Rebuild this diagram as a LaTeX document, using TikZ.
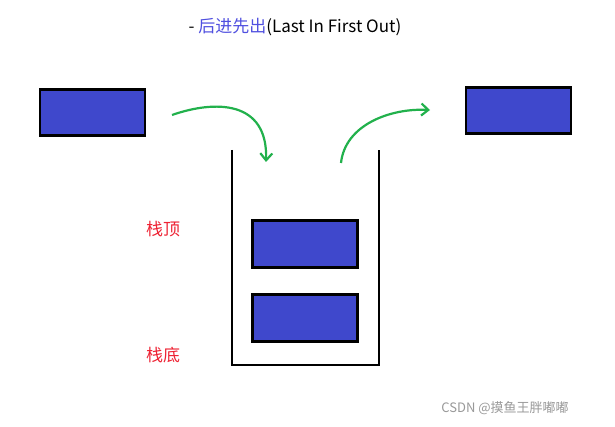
\documentclass[tikz,border=0pt]{standalone}
\usepackage{fontspec}
\setmainfont{Noto Sans CJK SC}
\usetikzlibrary{arrows.meta}
\definecolor{boxblue}{HTML}{3F48CC}
\definecolor{titleblue}{HTML}{5050E0}
\definecolor{grn}{HTML}{22B14C}
\definecolor{lblred}{HTML}{EE2233}
\tikzset{blk/.style={draw=black,line width=2.2pt,fill=boxblue},
 garrow/.style={draw=grn,line width=2.2pt,-{Straight Barb[length=7pt,width=12pt]}},
 lbl/.style={text=lblred,font=\fontsize{17}{20}\selectfont}}
\begin{document}
\begin{tikzpicture}[x=1pt,y=-1pt]
\useasboundingbox[fill=white] (0,0) rectangle (615,427);
\node (title) at (295,27) {\fontsize{17}{20}\selectfont - \textcolor{titleblue}{后进先出}(Last In First Out)};
\node[blk,minimum width=105pt,minimum height=46pt,inner sep=0pt] (left) at (92.5,112.5) {};
\node[blk,minimum width=105pt,minimum height=46pt,inner sep=0pt] (right) at (518.5,110.5) {};
\node[blk,minimum width=105pt,minimum height=47pt,inner sep=0pt] (top) at (305,244) {};
\node[blk,minimum width=105pt,minimum height=47pt,inner sep=0pt] (bot) at (305,318) {};
\coordinate (s1) at (232,150); \coordinate (s2) at (232,365);
\coordinate (s3) at (379,365); \coordinate (s4) at (379,150);
\draw[line width=2.5pt] (s1) -- (s2) -- (s3) -- (s4);
\node[lbl] (ding) at (163,229) {栈顶};
\node[lbl] (di) at (163,355) {栈底};
\coordinate (a1) at (172,115); \coordinate (a2) at (266,162);
\draw[garrow] (a1) .. controls (215,100) and (268,100) .. (a2);
\coordinate (b1) at (341,163); \coordinate (b2) at (430,110);
\draw[garrow] (b1) .. controls (345,125) and (390,108) .. (b2);
\node[text=gray!80,font=\fontsize{13}{15}\selectfont] (wm) at (505,408) {CSDN @摸鱼王胖嘟嘟};
\end{tikzpicture}
\end{document}
